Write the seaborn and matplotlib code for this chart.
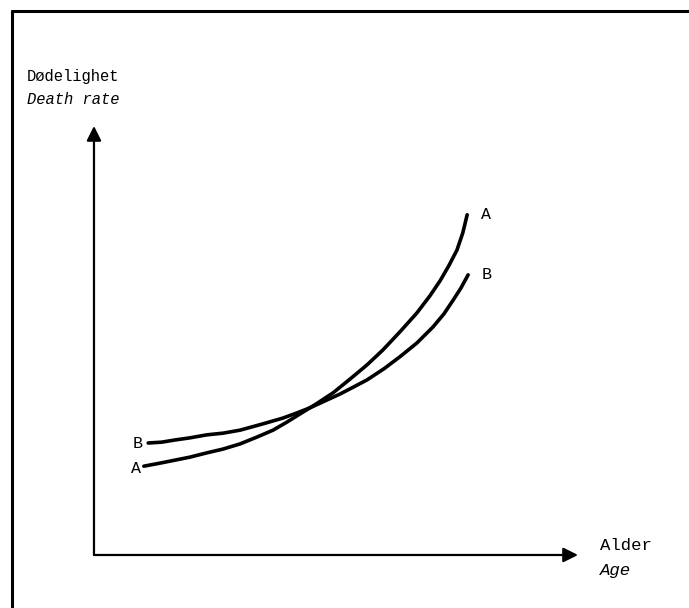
import matplotlib
matplotlib.use("Agg")
import matplotlib.pyplot as plt
from matplotlib.lines import Line2D
import seaborn as sns
import pandas as pd

# curve values (age 0-100, death rate 0-100)
age_a = [10.3, 13.6, 16.7, 19.8, 23.3, 26.7, 30.2, 33.7, 37.0, 39.9, 42.6, 45.9,
         49.4, 52.9, 56.4, 59.7, 63.2, 66.7, 69.4, 71.5, 73.3, 75.0, 76.2, 77.1]
rate_a = [20.7, 21.4, 22.1, 22.8, 23.8, 24.7, 25.9, 27.5, 29.1, 31.0, 32.9, 35.2,
          37.8, 41.0, 44.3, 47.8, 52.0, 56.4, 60.4, 63.9, 67.4, 71.1, 75.1, 79.3]
age_b = [11.2, 14.0, 16.7, 19.8, 23.3, 26.7, 30.2, 34.7, 39.0, 41.9, 44.6, 47.7,
         50.8, 53.7, 56.4, 59.9, 63.2, 66.7, 70.0, 72.3, 74.2, 75.8, 77.3]
rate_b = [26.1, 26.3, 26.8, 27.3, 28.0, 28.4, 29.1, 30.5, 31.9, 33.1, 34.3, 35.9,
          37.5, 39.2, 40.8, 43.4, 46.2, 49.4, 53.1, 56.2, 59.4, 62.2, 65.3]

y_label = ["Dødelighet", "Death rate"]
x_label = ["Alder", "Age"]

df = pd.concat([
    pd.DataFrame({"age": age_a, "rate": rate_a, "curve": "A"}),
    pd.DataFrame({"age": age_b, "rate": rate_b, "curve": "B"}),
])

sns.set_style("white")
plt.rcParams["font.family"] = ["Liberation Mono", "DejaVu Sans Mono"]
plt.rcParams["text.color"] = "black"

fig = plt.figure(figsize=(6.89, 6.08), dpi=100)
ax = fig.add_axes([0.1364, 0.0872, 0.7025, 0.7056])

sns.lineplot(data=df, x="age", y="rate", hue="curve", palette={"A": "black", "B": "black"},
             sort=False, estimator=None, legend=False, linewidth=2.6, ax=ax,
             solid_capstyle="round", solid_joinstyle="round")

ax.set_xlim(0, 100)
ax.set_ylim(0, 100)
ax.set_xticks([])
ax.set_yticks([])
ax.set_xlabel("")
ax.set_ylabel("")
sns.despine(ax=ax, left=True, bottom=True)

# axes with arrow heads
arrow = dict(arrowstyle="-|>", lw=1.6, color="black", mutation_scale=22, shrinkA=0, shrinkB=0)
ax.annotate("", xy=(100, 0), xytext=(0, 0), arrowprops=arrow, annotation_clip=False)
ax.annotate("", xy=(0, 100), xytext=(0, 0), arrowprops=arrow, annotation_clip=False)

# end labels
ax.annotate("A", (age_a[-1], rate_a[-1]), xytext=(10, 0), textcoords="offset points",
            ha="left", va="center", fontsize=12)
ax.annotate("B", (age_b[-1], rate_b[-1]), xytext=(10, 0), textcoords="offset points",
            ha="left", va="center", fontsize=12)
ax.annotate("A", (age_a[0], rate_a[0]), xytext=(-2, -2), textcoords="offset points",
            ha="right", va="center", fontsize=12)
ax.annotate("B", (age_b[0], rate_b[0]), xytext=(-4, 0), textcoords="offset points",
            ha="right", va="center", fontsize=12)

# axis titles
fig.text(27 / 689, 1 - 77 / 608, y_label[0], fontsize=11.2, va="center", ha="left")
fig.text(27 / 689, 1 - 100 / 608, y_label[1], fontsize=11.2, va="center", ha="left", style="italic")
fig.text(600 / 689, 1 - 545 / 608, x_label[0], fontsize=12.5, va="center", ha="left")
fig.text(600 / 689, 1 - 570 / 608, x_label[1], fontsize=12.5, va="center", ha="left", style="italic")

# frame (only top and left edges show)
fig.add_artist(Line2D([12 / 689, 12 / 689], [0, 1 - 11 / 608], color="black", lw=2.2,
                      transform=fig.transFigure))
fig.add_artist(Line2D([12 / 689, 1], [1 - 11 / 608, 1 - 11 / 608], color="black", lw=2.2,
                      transform=fig.transFigure))

fig.savefig("out.png", dpi=100)
